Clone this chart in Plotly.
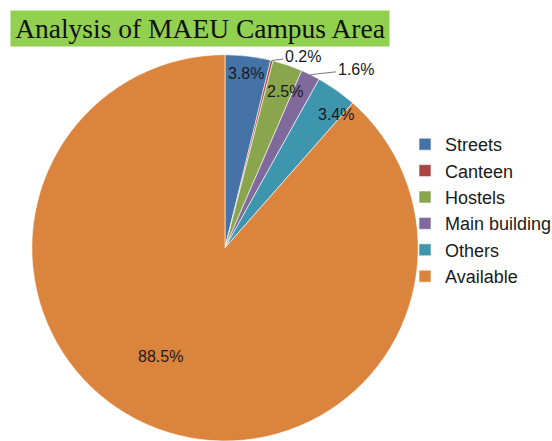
import math
import plotly.graph_objects as go

# ---- data ----
categories = ["Streets", "Canteen", "Hostels", "Main building", "Others", "Available"]
values = [3.8, 0.2, 2.5, 1.6, 3.4, 88.5]
title_text = "Analysis of MAEU Campus Area"

# ---- style ----
colors = ["#4572A7", "#AA4643", "#89A54E", "#80699B", "#3D96AE", "#DB843D"]
W, H = 552, 441
dom_x = [0.0553, 0.7600]
dom_y = [0.0, 0.876]
# inside labels: (angle offset from slice middle in degrees, radius fraction)
inside_place = {"Streets": (0.0, 0.91), "Hostels": (2.0, 0.865),
                "Others": (4.5, 0.90), "Available": (10.0, 0.656)}
# outside labels with leader line: pixel offset of text centre from slice edge
outside_place = {"Canteen": (31, -4), "Main building": (45, -5)}

fig = go.Figure(go.Pie(
    labels=categories, values=values, sort=False, direction="clockwise",
    rotation=0, marker=dict(colors=colors, line=dict(color="white", width=0.6)),
    textinfo="none", hoverinfo="label+percent", domain=dict(x=dom_x, y=dom_y),
    showlegend=True,
))

# pie geometry derived from the domain
cx = (dom_x[0] + dom_x[1]) / 2 * W
cy = H - (dom_y[0] + dom_y[1]) / 2 * H
R = min((dom_x[1] - dom_x[0]) * W, (dom_y[1] - dom_y[0]) * H) / 2
total = sum(values)

annotations = []
cum = 0.0
label_font = dict(family="Liberation Sans, Arial, sans-serif", size=16, color="#1a1a1a")
for cat, v in zip(categories, values):
    start = cum / total * 360
    cum += v
    end = cum / total * 360
    mid = (start + end) / 2
    txt = f"{v:.1f}%"
    if cat in inside_place:
        off, rf = inside_place[cat]
        a = math.radians(mid + off)
        px = cx + rf * R * math.sin(a)
        py = cy - rf * R * math.cos(a)
        annotations.append(dict(x=px / W, y=1 - py / H, xref="paper", yref="paper",
                                xanchor="center", yanchor="middle",
                                text=txt, showarrow=False, font=label_font))
    else:
        ax, ay = outside_place[cat]
        a = math.radians(mid)
        px = cx + R * math.sin(a)
        py = cy - R * math.cos(a)
        annotations.append(dict(x=px / W, y=1 - py / H, xref="paper", yref="paper",
                                text=txt, showarrow=True, arrowhead=0, arrowwidth=0.8,
                                arrowcolor="#555555", ax=ax, ay=ay, standoff=0,
                                font=label_font))

# title with green box
annotations.append(dict(x=10 / W, y=1 - 10 / H, xref="paper", yref="paper",
                        xanchor="left", yanchor="top", text=title_text, showarrow=False,
                        bgcolor="#92D050", width=378, height=35, borderpad=0,
                        font=dict(family="Liberation Serif, Times New Roman, serif",
                                  size=27.5, color="#111111")))

fig.update_layout(
    width=W, height=H,
    margin=dict(l=0, r=0, t=0, b=0, autoexpand=False),
    paper_bgcolor="white", plot_bgcolor="white",
    annotations=annotations,
    legend=dict(x=405 / W, xanchor="left", y=1 - 210.5 / H, yanchor="middle",
                font=dict(family="Liberation Sans, Arial, sans-serif", size=18,
                          color="#1a1a1a"),
                bgcolor="rgba(0,0,0,0)", borderwidth=0),
)

fig.write_html("out.html")
